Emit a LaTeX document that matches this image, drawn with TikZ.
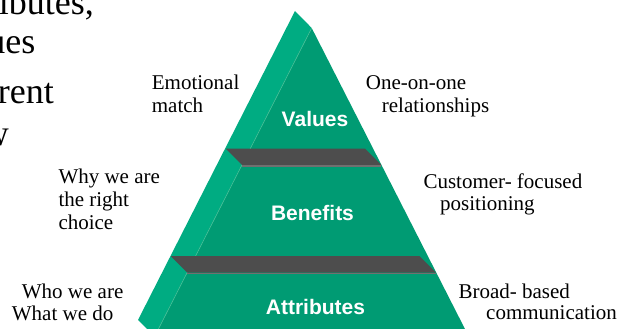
\documentclass[tikz,border=0pt]{standalone}
\usepackage{fontspec}
\setmainfont{Liberation Serif}
\setsansfont{Liberation Sans}

\definecolor{sidegreen}{RGB}{0,172,130}
\definecolor{frontgreen}{RGB}{0,155,115}
\definecolor{seamgreen}{RGB}{70,190,150}
\definecolor{bandgray}{RGB}{77,77,77}
\definecolor{bandedge}{RGB}{112,112,112}

\tikzset{
  lbl/.style={font=\fontsize{21}{22}\selectfont, anchor=base west, inner sep=0pt},
  tier/.style={font=\sffamily\bfseries\fontsize{21}{22}\selectfont, text=white, anchor=base, inner sep=0pt},
  big/.style={font=\fontsize{36}{40}\selectfont, anchor=base east, inner sep=0pt},
  sideface/.style={fill=sidegreen, draw=none},
  frontface/.style={fill=frontgreen, draw=none},
  seam/.style={draw=seamgreen, line width=0.6pt},
  band/.style={fill=bandgray, draw=none},
  bandline/.style={draw=bandedge, line width=1.6pt},
}

\begin{document}
\begin{tikzpicture}[x=1pt, y=-1pt]
  \useasboundingbox (0,0) rectangle (619,329);
  \fill[white] (0,0) rectangle (619,329);
  \begin{scope}
    \clip (0,0) rectangle (619,329);

    % side face of the pyramid
    \coordinate (apexS) at (295,11);
    \coordinate (apexF) at (311.7,28);
    \coordinate (baseSL) at (138,320);
    \coordinate (baseFL) at (154.6,336.5);
    \coordinate (baseFR) at (468.8,336.5);
    \path[sideface] (apexS) -- (apexF) -- (baseFL) -- (baseSL) -- cycle;

    % front face of the pyramid
    \path[frontface] (apexF) -- (baseFR) -- (baseFL) -- cycle;
    \draw[seam] (apexF) -- (baseFL);

    % upper band (top of the Benefits slab)
    \coordinate (b1tl) at (225.6,148.5);
    \coordinate (b1tr) at (364.8,148.5);
    \coordinate (b1br) at (381.3,165);
    \coordinate (b1bl) at (242.1,165);
    \path[band] (b1tl) -- (b1tr) -- (b1br) -- (b1bl) -- cycle;
    \draw[bandline] ([yshift=-0.8pt]b1bl) -- ([yshift=-0.8pt]b1br);

    % lower band (top of the Attributes slab)
    \coordinate (b2tl) at (170.9,256.2);
    \coordinate (b2tr) at (419.5,256.2);
    \coordinate (b2br) at (436,272.7);
    \coordinate (b2bl) at (187.4,272.7);
    \path[band] (b2tl) -- (b2tr) -- (b2br) -- (b2bl) -- cycle;
    \draw[bandline] ([yshift=-0.8pt]b2bl) -- ([yshift=-0.8pt]b2br);

    % tier titles
    \node[tier] (values) at (315,126) {Values};
    \node[tier] (benefits) at (312.5,220.7) {Benefits};
    \node[tier] (attributes) at (315.5,314.3) {Attributes};

    % running text at the left edge
    \node[big] (frag1) at (94,15) {ributes,};
    \node[big] (frag2) at (35.5,53.3) {ues};
    \node[big] (frag3) at (54,103.3) {rent};
    \node[big] (frag4) at (9,145) {w};

    % side labels
    \node[lbl] (emo1) at (151.7,90) {Emotional};
    \node[lbl] (emo2) at (151.7,112.5) {match};
    \node[lbl] (one1) at (365.7,90) {One-on-one};
    \node[lbl] (one2) at (381.7,112.5) {relationships};
    \node[lbl] (why1) at (58.3,183.3) {Why we are};
    \node[lbl] (why2) at (58.3,206) {the right};
    \node[lbl] (why3) at (58.3,229) {choice};
    \node[lbl] (cus1) at (423.3,188.3) {Customer- focused};
    \node[lbl] (cus2) at (440,210) {positioning};
    \node[lbl] (who1) at (21.7,298.3) {Who we are};
    \node[lbl] (who2) at (11.7,320) {What we do};
    \node[lbl] (bro1) at (458.3,298.3) {Broad- based};
    \node[lbl] (bro2) at (486,319.3) {communication};
  \end{scope}
\end{tikzpicture}
\end{document}
